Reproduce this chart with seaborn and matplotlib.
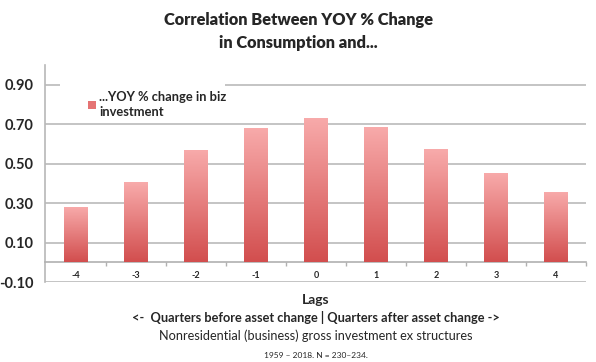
import numpy as np
import pandas as pd
import matplotlib
matplotlib.use("Agg")
import matplotlib.pyplot as plt
import matplotlib.transforms as mtransforms
from matplotlib.colors import LinearSegmentedColormap
from matplotlib.patches import Rectangle
import seaborn as sns

# ---- data ----
lags = ["-4", "-3", "-2", "-1", "0", "1", "2", "3", "4"]
corr = [0.28, 0.405, 0.57, 0.683, 0.733, 0.686, 0.572, 0.455, 0.356]
series_name = "...YOY % change in biz\ninvestment"
yticks = [-0.10, 0.10, 0.30, 0.50, 0.70, 0.90]

title = "Correlation Between YOY % Change\nin Consumption and..."
xlabel1 = "Lags"
xlabel2 = "<-  Quarters before asset change | Quarters after asset change ->"
xlabel3 = "Nonresidential (business) gross investment ex structures"
note = "1959 \u2013 2018. N = 230\u2013234."

sns.set_theme(style="white")
plt.rcParams["font.family"] = ["Lato", "DejaVu Sans"]

df = pd.DataFrame({"lag": lags, "corr": corr})

fig = plt.figure(figsize=(5.96, 3.62), dpi=100)
ax = fig.add_axes([45/596, 1-282/362, (586-45)/596, (282-65)/362])

sns.barplot(data=df, x="lag", y="corr", order=lags, color="#e06666",
            width=0.4, ax=ax, zorder=3, edgecolor="none", saturation=1)

# gradient fill on each bar
cmap = LinearSegmentedColormap.from_list("g", ["#d24e4e", "#f8abab"])
grad = np.linspace(0, 1, 256).reshape(-1, 1)
for p in ax.patches:
    x0, y0 = p.get_x(), p.get_y()
    w, h = p.get_width(), p.get_height()
    p.set_facecolor("none")
    im = ax.imshow(grad, cmap=cmap, origin="lower", aspect="auto",
                   extent=[x0, x0 + w, y0, y0 + h], zorder=3)
    im.set_clip_path(p)

ax.set_xlim(-0.52, 8.5)
ax.set_ylim(-0.1, 1.0)

# grid
ax.set_yticks(yticks)
ax.set_yticklabels([f"{v:.2f}" for v in yticks], fontsize=10.5, fontweight="bold")
ax.yaxis.grid(True, color="#c4c4c4", linewidth=1.4, zorder=0)
ax.tick_params(axis="y", length=0, pad=8)

# x axis at zero
for s in ["top", "right"]:
    ax.spines[s].set_visible(False)
ax.spines["left"].set_color("#b8b8b8")
ax.spines["left"].set_linewidth(1.2)
ax.spines["bottom"].set_position(("data", 0))
ax.spines["bottom"].set_color("#b0b0b0")
ax.spines["bottom"].set_linewidth(1.2)
ax.set_xticks(np.arange(len(lags)))
ax.set_xticklabels(lags, fontsize=6.5, fontweight="bold")
ax.set_xticks(np.arange(len(lags)) + 0.5, minor=True)
ax.tick_params(axis="x", which="major", length=0, pad=6)
ax.tick_params(axis="x", which="minor", length=3, width=1, color="#b0b0b0",
               direction="out", bottom=True)
ax.set_xlabel("")
ax.set_ylabel("")

# legend background (the legend area hides the top gridline)
trans = mtransforms.blended_transform_factory(ax.transAxes, ax.transData)
ax.add_patch(Rectangle(((60-45)/541, 0.86), (225-60)/541, 0.08,
                       transform=trans, facecolor="white", edgecolor="none",
                       zorder=1))

handle = Rectangle((0, 0), 1, 1, facecolor="#e57373", edgecolor="none")
leg = ax.legend([handle], [series_name], loc="upper left",
                bbox_to_anchor=(0.06, 0.928), frameon=False,
                handlelength=0.6, handleheight=0.6, handletextpad=0.3,
                prop={"size": 9.3, "weight": "bold"}, borderpad=0.3,
                labelspacing=0.2)
leg.set_zorder(5)
for t in leg.get_texts():
    t.set_linespacing(1.35)

# titles and labels
fig.text(0.5, 1-20/362, title.split("\n")[0], ha="center", va="center",
         fontsize=11.8, fontweight="heavy")
fig.text(0.5, 1-43/362, title.split("\n")[1], ha="center", va="center",
         fontsize=11.8, fontweight="heavy")
cx = (45 + 586) / 2 / 596
fig.text(cx, 1-300/362, xlabel1, ha="center", va="center", fontsize=10, fontweight="bold")
fig.text(cx, 1-318/362, xlabel2, ha="center", va="center", fontsize=9.2, fontweight="bold")
fig.text(cx, 1-336/362, xlabel3, ha="center", va="center", fontsize=9.2)
fig.text(cx, 1-355/362, note, ha="center", va="center", fontsize=6.0)

fig.savefig("out.png", dpi=100)
